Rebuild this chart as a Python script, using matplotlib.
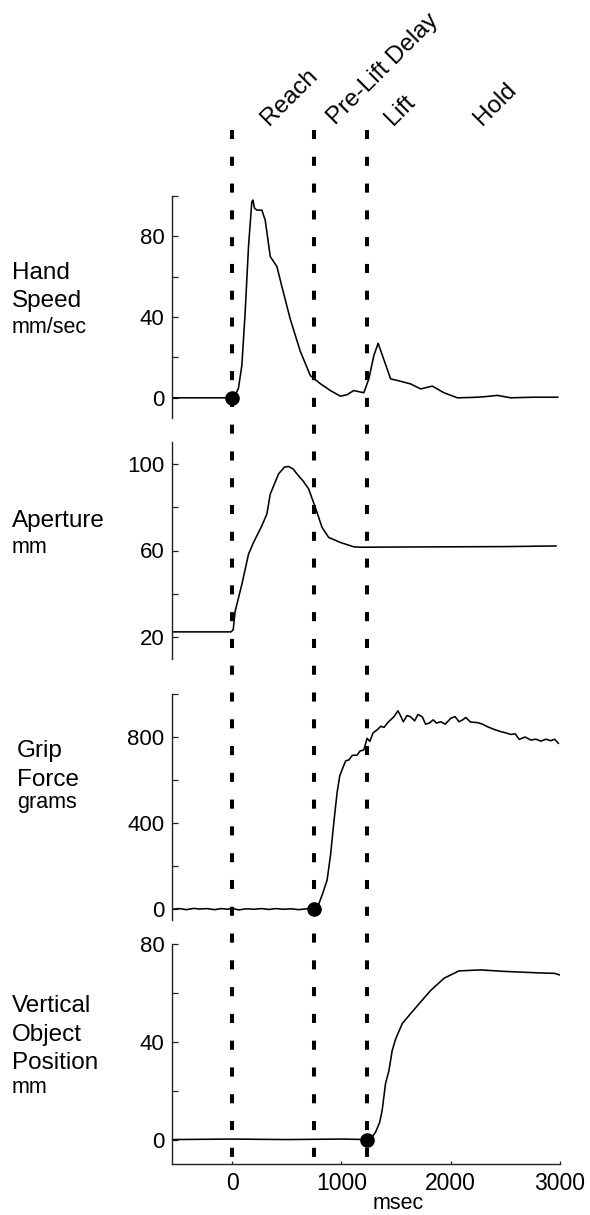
#!/usr/bin/env python3
"""
Reach-to-grasp kinematics: hand speed, aperture, grip force, object position.
"""

import matplotlib.pyplot as plt

plt.rcParams["font.family"] = ["Liberation Sans", "DejaVu Sans"]

# Events (msec) and phase names
event_times = [0, 750, 1235]
phases = ["Reach", "Pre-Lift Delay", "Lift", "Hold"]
phase_label_x = [340, 945, 1475, 2290]

# Hand speed (mm/sec)
hand_t = [-550, -10, 30, 58, 89, 119, 150, 180, 190, 205, 226, 272, 303, 349, 410, 456, 532,
          624, 716, 807, 899, 991, 1050, 1113, 1205, 1251, 1297, 1336, 1388, 1450, 1541, 1633,
          1725, 1832, 1939, 2061, 2200, 2300, 2428, 2550, 2750, 2979]
hand_v = [0, 0, 1.5, 4.8, 16, 42, 75, 97, 98, 94, 93, 93, 88, 70, 65, 55, 39,
          23, 11, 7, 3.6, 0.8, 1.5, 3.6, 2.5, 9.4, 21, 27, 19, 9.4, 8.2, 6.9,
          4.4, 5.8, 2.5, 0, 0.2, 0.5, 1.2, 0, 0.3, 0.3]

# Aperture (mm)
ap_t = [-550, -10, 10, 28, 89, 150, 196, 272, 318, 349, 425, 480, 517, 560, 593, 650, 700,
        761, 823, 884, 991, 1113, 1174, 1500, 2000, 2500, 2963]
ap_v = [22.5, 22.5, 23.5, 32, 44.4, 58.3, 63.7, 71.4, 76.8, 86, 95.3, 98.5, 98.7, 97.5, 95.3, 92, 88.4,
        79.9, 70.6, 66, 63.7, 61.7, 61.5, 61.6, 61.7, 61.8, 62.1]

# Grip force (grams)
grip_t = [-550, -480, -420, -350, -300, -230, -160, -100, -40, 0, 60, 130, 200, 270, 340, 400,
          470, 540, 610, 680, 746, 790, 830, 869, 900, 930, 960, 985, 1015, 1040, 1067, 1100, 1144,
          1170, 1205, 1235, 1260, 1290, 1327, 1360, 1390, 1419, 1450, 1480, 1517, 1540, 1566,
          1600, 1633, 1670, 1700, 1740, 1770, 1801, 1840, 1870, 1908, 1950, 2000, 2040, 2076,
          2110, 2138, 2180, 2245, 2290, 2336, 2400, 2459, 2500, 2550, 2590, 2627, 2680, 2734,
          2780, 2826, 2870, 2917, 2950, 2985]
grip_g = [0, 3, -2, 4, 1, 3, -2, 3, 0, 4, -3, 2, 0, 3, -1, 3,
          0, 2, -2, 2, 5, 20, 75, 135, 250, 400, 540, 620, 660, 690, 693, 715, 716,
          735, 740, 794, 780, 820, 833, 850, 845, 864, 880, 894, 922, 900, 871,
          900, 894, 875, 905, 894, 860, 864, 880, 865, 871, 860, 887, 895, 871,
          880, 891, 870, 867, 860, 848, 835, 825, 820, 812, 815, 789, 800, 786,
          790, 781, 790, 783, 790, 771]

# Vertical object position (mm)
obj_t = [-550, 0, 500, 1000, 1239, 1280, 1312, 1350, 1373, 1404, 1434, 1465, 1495, 1557, 1633,
         1725, 1817, 1939, 2076, 2275, 2489, 2795, 2948, 3000]
obj_v = [0, 0.2, 0, 0.2, 0, 1, 3, 7, 12, 23, 28, 36.5, 41, 47.5, 51.5,
         56.3, 61, 66, 69, 69.4, 68.8, 68.2, 68, 67.3]

W, H = 590, 1215
fig = plt.figure(figsize=(W / 100, H / 100), dpi=100)


def px_axes(top, bottom, left=172, right=560):
    return fig.add_axes([left / W, 1 - bottom / H, (right - left) / W, (bottom - top) / H])


XLIM = (-550, 3000)
panels = [
    # (top px, bottom px, t, y, ylim, ticks, labels, marker event index)
    (196, 418, hand_t, hand_v, (-10, 100), [0, 20, 40, 60, 80, 100], ["0", "", "40", "", "80", ""], 0),
    (442, 659, ap_t, ap_v, (10, 110), [20, 40, 60, 80, 100], ["20", "", "60", "", "100"], None),
    (694, 920, grip_t, grip_g, (-50, 1000), [0, 200, 400, 600, 800, 1000], ["0", "", "400", "", "800", ""], 1),
    (944, 1164, obj_t, obj_v, (-10, 80), [0, 20, 40, 60, 80], ["0", "", "40", "", "80"], 2),
]

axes = []
for i, (top, bot, t, y, ylim, ticks, labels, ev) in enumerate(panels):
    ax = px_axes(top, bot)
    ax.plot(t, y, color="black", lw=1.15)
    if ev is not None:
        ax.plot([event_times[ev]], [0], "o", color="black", ms=9.5, zorder=5, clip_on=False)
    ax.set_xlim(*XLIM)
    ax.set_ylim(*ylim)
    ax.set_yticks(ticks)
    ax.set_yticklabels(labels)
    for s in ["top", "right"]:
        ax.spines[s].set_visible(False)
    ax.spines["left"].set_linewidth(1.0)
    ax.spines["left"].set_color("#222222")
    ax.tick_params(axis="y", direction="in", length=4.3, width=0.9, pad=5.5,
                   labelsize=16, colors="#222222", labelcolor="black")
    if i < 3:
        ax.spines["bottom"].set_visible(False)
        ax.set_xticks([])
    else:
        ax.spines["bottom"].set_linewidth(1.0)
        ax.spines["bottom"].set_color("#222222")
        ax.set_xticks([0, 1000, 2000, 3000])
        ax.tick_params(axis="x", direction="in", length=2.5, width=0.9, pad=6,
                       labelsize=16.5, colors="#222222", labelcolor="black")
        ax.set_xlabel("msec", fontsize=15.5, labelpad=0)
        ax.xaxis.set_label_coords(0.582, -0.13)
    ax.patch.set_visible(False)
    axes.append(ax)

# Event lines spanning all panels
ax_ev = px_axes(130, 1157)
ax_ev.set_xlim(*XLIM)
ax_ev.set_ylim(0, 1)
ax_ev.axis("off")
for t in event_times:
    ax_ev.plot([t, t], [1, 0], color="black", lw=2.9, linestyle=(0, (2.25, 4.4)),
               dash_capstyle="butt", clip_on=False)
for name, x in zip(phases, phase_label_x):
    ax_ev.text(x, 1.004, name, rotation=45, rotation_mode="anchor", ha="left",
               va="baseline", fontsize=17.5, clip_on=False)

# Row labels
row_labels = [
    (["Hand", "Speed"], "mm/sec", 12, 279, 333),
    (["Aperture"], "mm", 12, 527, 553),
    (["Grip", "Force"], "grams", 17, 757, 808),
    (["Vertical", "Object", "Position"], "mm", 12, 1012, 1093),
]
for lines, unit, x, base, unit_base in row_labels:
    for k, line in enumerate(lines):
        fig.text(x / W, 1 - (base + 28.5 * k) / H, line, fontsize=17.5, va="baseline", ha="left")
    fig.text(x / W, 1 - unit_base / H, unit, fontsize=15.5, va="baseline", ha="left")

fig.savefig("out.png", dpi=100)
print("figure saved")
